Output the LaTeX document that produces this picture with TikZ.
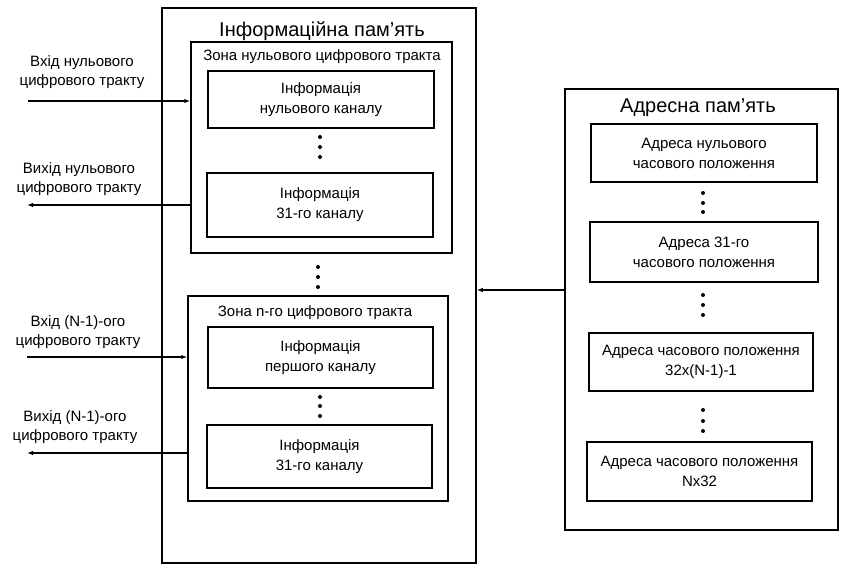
\documentclass[tikz,border=0pt]{standalone}
\usepackage{fontspec}
\setmainfont{Liberation Sans}
\usetikzlibrary{arrows.meta}

\tikzset{
  block/.style={draw, line width=1.5pt, inner sep=0pt},
  cell/.style={block, minimum width=226pt, minimum height=60pt, align=center,
    font=\fontsize{15}{20}\selectfont},
  head/.style={font=\fontsize{20}{24}\selectfont},
  subhead/.style={font=\fontsize{15}{18}\selectfont},
  lbl/.style={align=center, font=\fontsize{15}{19}\selectfont},
  link/.style={line width=1.4pt, -{Latex[length=6pt,width=4.5pt]}},
}

\begin{document}
\begin{tikzpicture}[x=1pt, y=-1pt]
  \useasboundingbox (0,0) rectangle (843,569);

  % information memory with its two zones
  \node[block, minimum width=314pt, minimum height=555pt] (mem) at (319,285.5) {};
  \node[head] (memtitle) at (322,31) {Інформаційна пам'ять};

  \node[block, minimum width=261pt, minimum height=211pt] (zone0) at (321.5,147.5) {};
  \node[subhead] (zone0title) at (322,57) {Зона нульового цифрового тракта};
  \node[cell, minimum height=57pt] (z0first) at (321,99.5) {Інформація\\нульового каналу};
  \node[cell, minimum height=64pt] (z0last) at (320,205) {Інформація\\31-го каналу};

  \node[block, minimum width=260pt, minimum height=205pt] (zonen) at (318,398.5) {};
  \node[subhead] (zonentitle) at (315,313) {Зона n-го цифрового тракта};
  \node[cell, minimum width=225pt, minimum height=61pt] (znfirst) at (320.5,357.5) {Інформація\\першого каналу};
  \node[cell, minimum width=225pt, minimum height=63pt] (znlast) at (319.5,456.5) {Інформація\\31-го каналу};

  % address memory
  \node[block, minimum width=273pt, minimum height=441pt] (addr) at (701.5,309.5) {};
  \node[head] (addrtitle) at (698,108) {Адресна пам'ять};
  \node[cell, minimum height=58pt] (a0) at (704,153) {Адреса нульового\\часового положення};
  \node[cell, minimum width=228pt] (a31) at (704,252) {Адреса 31-го\\часового положення};
  \node[cell, minimum width=224pt, minimum height=58pt] (aprev) at (701,362) {Адреса часового положення\\32x(N-1)-1};
  \node[cell, minimum width=225pt, minimum height=59pt] (alast) at (699.5,471.5) {Адреса часового положення\\Nx32};

  % dots between the blocks
  \foreach \x/\y in {320/137, 320/147, 320/157, 318/267, 318/277, 318/287,
                     320/397, 320/406, 320/416, 703/193, 703/203, 703/212,
                     703/295, 703/305, 703/315, 703/410, 703/421, 703/431}
    \fill (\x,\y) circle (2pt);

  % inputs and outputs of the digital paths
  \node[lbl] (in0lbl) at (82,72) {Вхід нульового\\цифрового тракту};
  \node[lbl] (out0lbl) at (79,179) {Вихід нульового\\цифрового тракту};
  \node[lbl] (innlbl) at (78,332) {Вхід (N-1)-ого\\цифрового тракту};
  \node[lbl] (outnlbl) at (75,427) {Вихід (N-1)-ого\\цифрового тракту};

  \coordinate (in0) at (28,101);
  \coordinate (out0) at (27,205);
  \coordinate (inn) at (27,357);
  \coordinate (outn) at (27,453);
  \coordinate (back) at (0,290);

  \draw[link] (in0) -- (in0 -| zone0.west);
  \draw[link] (zone0.west |- out0) -- (out0);
  \draw[link] (inn) -- (inn -| zonen.west);
  \draw[link] (zonen.west |- outn) -- (outn);
  \draw[link] (addr.west |- back) -- (mem.east |- back);
\end{tikzpicture}
\end{document}
